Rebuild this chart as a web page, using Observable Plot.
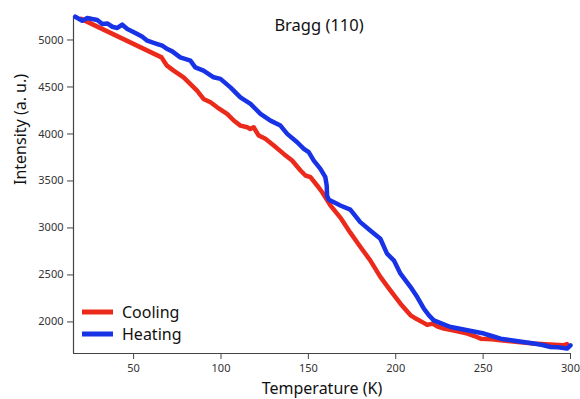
<!DOCTYPE html>
<html>
<head>
<meta charset="utf-8">
<script src="https://cdn.jsdelivr.net/npm/d3@7"></script>
<script src="https://cdn.jsdelivr.net/npm/@observablehq/plot@0.6"></script>
<style>
  html, body { margin: 0; padding: 0; background: #fff; }
  #chart { width: 580px; height: 399px; }
</style>
</head>
<body>
<div id="chart"></div>
<script>
// ---- data ----
const title = "Bragg (110)";
const xLabel = "Temperature (K)";
const yLabel = "Intensity (a. u.)";
const seriesNames = ["Cooling", "Heating"];
const seriesColors = ["#ec2a1c", "#1833e6"];

const xTicks = [50, 100, 150, 200, 250, 300];
const yTicks = [2000, 2500, 3000, 3500, 4000, 4500, 5000];

const coolingT = [20, 66, 67.2, 69.1, 72.9, 78.6, 83.4, 86.3, 90, 94, 97.8, 103.5, 107.3, 111.1, 115, 116.8, 118.7, 121.6, 125.4, 130.2, 135.9, 140.7, 145.5, 148.3, 151.2, 155, 157.9, 162.6, 168.3, 174, 179.7, 185.4, 191.2, 196.9, 202.7, 208.5, 212, 216, 218, 221, 224, 227.5, 234, 241, 245, 248.6, 255, 260, 270, 279, 288, 296, 298];
const coolingI = [5225, 4815, 4780, 4727, 4674, 4603, 4514, 4461, 4373, 4337, 4284, 4214, 4143, 4089, 4071, 4054, 4071, 3983, 3948, 3877, 3788, 3717, 3611, 3558, 3540, 3452, 3380, 3240, 3110, 2950, 2800, 2655, 2480, 2336, 2194, 2070, 2030, 1990, 1968, 1982, 1950, 1929, 1905, 1876, 1850, 1822, 1815, 1805, 1785, 1770, 1760, 1751, 1765];

const heatingT = [16.6, 20.6, 23.5, 26.3, 29.2, 32.1, 34.9, 37.8, 40.7, 43.5, 46.4, 49.3, 52.1, 55, 57.8, 60.7, 63.6, 66.4, 69.3, 72.1, 76.7, 82.5, 85.3, 90, 95.8, 99.7, 105.4, 111.1, 116.9, 122.6, 128.3, 134, 137.9, 143.6, 147.4, 150.2, 153.1, 156.9, 159.7, 160.5, 160.7, 161.7, 165.5, 168.3, 174, 179.7, 185.4, 191.2, 195, 198.9, 202.7, 208.5, 212.3, 216.1, 219, 221.8, 226, 231.4, 236, 241, 250.5, 255, 260, 270, 279, 284, 288.6, 293, 298, 300];
const heatingI = [5248, 5205, 5234, 5223, 5213, 5170, 5176, 5141, 5128, 5163, 5117, 5091, 5064, 5035, 4993, 4974, 4957, 4939, 4904, 4879, 4815, 4780, 4709, 4674, 4603, 4586, 4496, 4390, 4320, 4214, 4142, 4089, 4001, 3912, 3842, 3806, 3717, 3629, 3540, 3450, 3345, 3300, 3265, 3239, 3195, 3062, 2973, 2885, 2726, 2655, 2513, 2371, 2265, 2141, 2070, 2017, 1985, 1946, 1930, 1911, 1876, 1850, 1822, 1795, 1770, 1755, 1733, 1730, 1716, 1751];

const xDomain = [15.6, 300];
const yDomain = [1664, 5250];

// ---- build table ----
const rows = [];
coolingT.forEach((t, i) => rows.push({series: seriesNames[0], T: t, I: coolingI[i]}));
heatingT.forEach((t, i) => rows.push({series: seriesNames[1], T: t, I: heatingI[i]}));

const FONT = "'Noto Sans', 'DejaVu Sans', sans-serif";
const axisColor = "#444";

function legendMark(index, scales, values, dimensions) {
  const {marginLeft, height, marginBottom} = dimensions;
  const bottom = height - marginBottom;
  const g = d3.create("svg:g");
  seriesNames.forEach((name, i) => {
    const y = bottom - 41 + i * 22;
    g.append("line")
      .attr("x1", marginLeft + 9).attr("x2", marginLeft + 40)
      .attr("y1", y).attr("y2", y)
      .attr("stroke", seriesColors[i]).attr("stroke-width", 5);
    g.append("text")
      .attr("x", marginLeft + 49).attr("y", y)
      .attr("dy", "0.35em")
      .attr("text-anchor", "start")
      .attr("font-family", FONT).attr("font-size", 16)
      .attr("fill", "#111")
      .text(name);
  });
  return g.node();
}

const chart = Plot.plot({
  width: 580,
  height: 399,
  marginLeft: 73,
  marginRight: 10,
  marginTop: 16,
  marginBottom: 46,
  style: {fontFamily: FONT, background: "#fff", color: "#222"},
  x: {domain: xDomain},
  y: {domain: yDomain},
  color: {domain: seriesNames, range: seriesColors},
  marks: [
    Plot.axisX({ticks: xTicks, tickSize: 6, tickPadding: 5, fontSize: 11, label: null, tickFormat: d3.format("d"), stroke: axisColor, strokeOpacity: 1, fill: "#333"}),
    Plot.axisY({ticks: yTicks, tickSize: 6, tickPadding: 4, fontSize: 11, label: null, tickFormat: d3.format("d"), stroke: axisColor, strokeOpacity: 1, fill: "#333"}),
    Plot.ruleX([xDomain[0]], {stroke: axisColor, strokeWidth: 1.2}),
    Plot.ruleY([yDomain[0]], {stroke: axisColor, strokeWidth: 1.2}),
    Plot.line(rows, {x: "T", y: "I", z: "series", stroke: "series", strokeWidth: 4.5, strokeLinejoin: "round", strokeLinecap: "round"}),
    Plot.text([title], {text: d => d, frameAnchor: "top", lineAnchor: "middle", dx: -3, dy: 9, fontSize: 16.5, fill: "#111"}),
    Plot.text([xLabel], {text: d => d, frameAnchor: "bottom", lineAnchor: "middle", dy: 35, fontSize: 16, fill: "#111"}),
    Plot.text([yLabel], {text: d => d, frameAnchor: "left", rotate: -90, dx: -53, fontSize: 16, fill: "#111"}),
    legendMark
  ]
});

document.getElementById("chart").appendChild(chart);
</script>
</body>
</html>
